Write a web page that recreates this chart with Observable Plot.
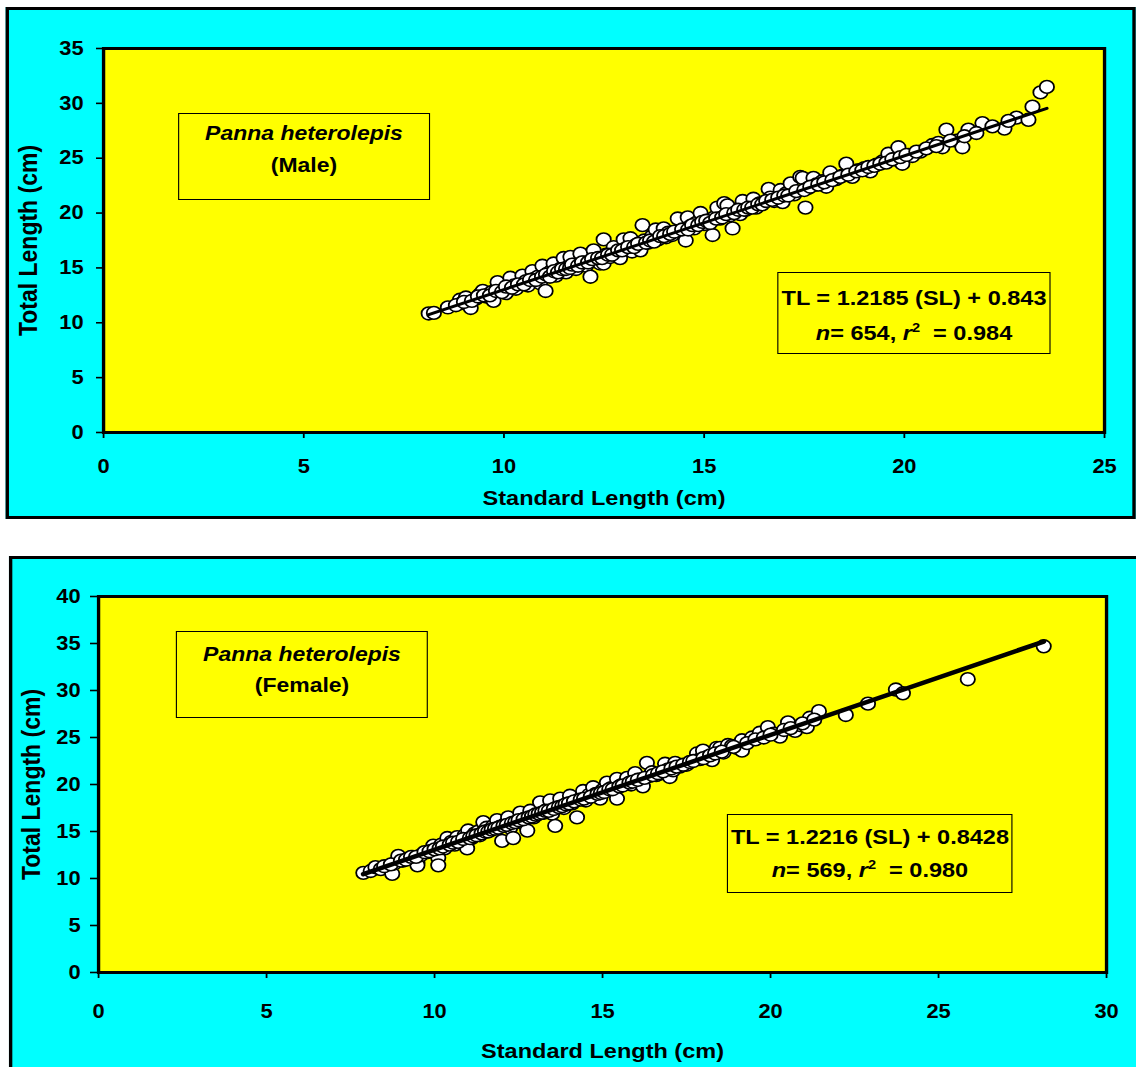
<!DOCTYPE html>
<html>
<head>
<meta charset="utf-8">
<script src="https://cdn.jsdelivr.net/npm/d3@7"></script>
<script src="https://cdn.jsdelivr.net/npm/@observablehq/plot@0.6"></script>
<style>
html, body { margin: 0; padding: 0; background: #fff; overflow: hidden; width: 1136px; height: 1067px; }
#wrap { position: absolute; left: 0; top: 0; height: 1067px; transform-origin: 0 0; font-family: "Liberation Sans", Arial, sans-serif; }
.panel { position: absolute; background: #00FFFF; border: 3px solid #000; box-sizing: border-box; }
.chart { position: absolute; left: 0; }
.box { position: absolute; box-sizing: border-box; border: 1.5px solid #000; text-align: center; font-weight: bold; color: #000; white-space: nowrap; }
.box i { font-style: italic; }
.box sup { font-size: 0.62em; vertical-align: 0.6em; line-height: 0; }
g[aria-label="x-axis"] line, g[aria-label="y-axis"] line,
g[aria-label="x-axis tick"] path, g[aria-label="y-axis tick"] path { stroke-width: 1.6; }
</style>
</head>
<body>
<div id="wrap"></div>
<script>
// ---------------- data ----------------
// Male: Standard Length (cm) and Total Length (cm)
const maleSL = [8.12,8.25,8.90,8.95,9.05,9.17,9.30,9.40,9.47,9.55,9.62,9.70,9.74,9.84,9.90,10.00,10.05,10.10,10.16,10.25,
  10.30,10.40,10.46,10.55,10.60,10.71,10.75,10.85,10.90,10.96,11.04,11.10,11.20,11.24,11.30,11.40,11.49,11.55,11.60,11.66,
  11.75,11.80,11.91,12.00,12.05,12.16,12.24,12.30,12.40,12.49,12.49,12.55,12.65,12.74,12.80,12.90,12.99,13.05,13.16,13.20,
  13.30,13.41,13.46,13.50,13.60,13.70,13.79,13.85,13.99,14.05,14.10,14.20,14.34,14.40,14.54,14.59,14.65,14.75,14.80,14.91,
  15.00,15.10,15.21,15.25,15.33,15.40,15.50,15.58,15.65,15.71,15.80,15.90,15.96,16.05,16.15,16.23,16.30,16.40,16.50,16.61,
  16.65,16.75,16.91,16.96,17.05,17.16,17.25,17.40,17.46,17.53,17.60,17.73,17.80,17.95,18.05,18.15,18.30,18.45,18.55,18.70,
  18.85,19.00,19.15,19.30,19.45,19.60,19.75,19.85,19.95,20.10,20.20,20.40,20.70,20.85,20.95,21.05,21.30,21.45,21.60,21.95,
  22.50,22.80,23.10,23.20,23.40,23.56,
  8.60,8.80,9.00,9.20,9.35,9.50,9.65,9.80,9.95,10.05,10.20,10.35,10.50,10.65,10.80,10.95,11.05,11.15,11.25,11.35,
  11.45,11.55,11.65,11.70,11.85,11.95,12.10,12.20,12.35,12.45,12.60,12.70,12.85,12.95,13.10,13.25,13.35,13.55,13.65,13.75,
  13.90,14.00,14.15,14.25,14.45,14.60,14.70,14.85,14.95,15.05,15.15,15.30,15.45,15.55,15.75,15.85,16.00,16.10,16.20,16.35,
  16.45,16.55,16.70,16.85,17.00,17.10,17.30,17.50,17.65,17.85,18.00,18.20,18.40,18.60,18.80,18.95,19.10,19.25,19.40,19.55,
  19.70,19.90,20.05,20.30,20.55,20.80,21.15,21.50,21.80,22.20,22.60];
const maleTL = [10.85,10.90,12.1,11.8,12.3,11.35,12.2,12.6,12.9,12.4,12.6,12.8,12.0,13.7,12.9,13.0,12.7,13.3,14.1,13.4,
  13.1,13.6,14.3,13.8,13.4,14.7,14.0,14.2,13.6,15.2,12.9,14.5,14.8,15.4,14.3,14.9,15.9,14.6,15.1,16.0,
  15.3,14.9,16.3,15.5,15.2,14.2,16.6,15.7,15.4,17.6,15.4,16.2,16.0,16.9,16.3,15.9,17.6,16.8,17.7,16.5,
  17.1,16.6,18.9,17.5,17.3,17.9,18.5,17.6,18.6,17.8,18.2,18.0,19.5,18.4,17.5,19.6,18.8,18.6,19.1,20.0,
  19.0,19.3,18.0,19.6,20.5,19.5,20.9,20.7,19.8,18.6,20.1,19.9,21.1,20.3,20.6,21.3,20.5,20.9,21.0,22.2,
  21.4,21.1,22.1,21.0,21.8,22.7,21.7,23.3,23.2,20.5,22.3,23.2,22.6,22.9,22.4,23.7,23.1,23.4,24.5,23.3,
  23.9,24.1,23.8,24.4,24.7,25.4,24.9,26.0,24.5,25.3,25.2,25.6,26.2,26.4,26.0,27.6,26.6,26.0,27.6,28.2,
  27.7,28.7,28.5,29.7,31.0,31.5,
  11.4,11.6,11.9,12.0,12.4,12.5,12.5,12.9,12.8,13.3,13.2,13.5,13.5,13.9,13.9,14.2,14.4,14.2,14.7,14.6,
  14.9,14.9,15.0,15.3,15.2,15.5,15.5,15.8,15.9,15.9,16.2,16.2,16.6,16.6,16.9,16.9,17.2,17.3,17.5,17.4,
  17.9,17.9,18.1,18.3,18.5,18.5,18.9,18.9,19.2,19.3,19.1,19.5,19.6,19.9,20.0,20.3,20.3,20.5,20.5,20.8,
  20.8,21.1,21.2,21.4,21.6,21.6,22.0,22.1,22.4,22.6,22.8,23.0,23.3,23.5,23.8,23.9,24.2,24.3,24.5,24.6,
  24.9,25.1,25.3,25.6,25.9,26.1,26.6,27.0,27.3,27.9,28.4];

// Female: Standard Length (cm) and Total Length (cm)
const femaleSL = [7.88,8.10,8.24,8.40,8.62,8.74,8.80,8.92,9.05,9.22,9.35,9.49,9.49,9.60,9.80,9.96,10.05,10.11,10.11,10.20,
  10.30,10.38,10.50,10.60,10.67,10.80,10.90,10.97,11.00,11.10,11.20,11.30,11.35,11.45,11.45,11.55,11.65,11.75,11.86,11.95,
  12.01,12.10,12.19,12.25,12.34,12.45,12.55,12.62,12.70,12.76,12.85,12.95,13.05,13.14,13.25,13.35,13.44,13.50,13.59,13.65,
  13.74,13.85,13.95,14.03,14.10,14.24,14.30,14.42,14.50,14.60,14.72,14.80,14.93,15.00,15.13,15.25,15.35,15.43,15.43,15.55,
  15.65,15.73,15.85,15.97,16.10,16.20,16.32,16.40,16.47,16.60,16.75,16.86,16.95,17.00,17.10,17.16,17.30,17.50,17.81,17.90,
  17.99,18.10,18.26,18.40,18.50,18.60,18.73,18.85,19.00,19.15,19.15,19.45,19.68,19.92,20.10,20.28,20.52,20.73,20.90,21.08,
  21.17,21.44,22.24,22.90,23.73,23.94,25.87,28.13,
  8.50,8.70,9.00,9.15,9.30,9.45,9.70,9.85,10.00,10.15,10.25,10.45,10.55,10.70,10.85,11.05,11.15,11.25,11.40,11.50,
  11.60,11.70,11.80,11.90,12.05,12.15,12.30,12.40,12.50,12.65,12.80,12.90,13.00,13.10,13.20,13.30,13.40,13.55,13.70,13.80,
  13.90,14.00,14.15,14.35,14.45,14.65,14.85,14.95,15.05,15.20,15.30,15.50,15.60,15.80,15.90,16.05,16.25,16.50,16.65,16.80,
  17.05,17.20,17.40,17.60,17.70,18.00,18.20,18.35,18.55,18.90,19.30,19.55,19.80,20.00,20.40,20.60,20.95,21.30];
const femaleTL = [10.6,10.8,11.2,11.0,11.2,10.5,11.6,12.4,11.9,12.1,12.3,11.7,11.4,12.5,12.8,13.5,13.0,12.2,11.4,13.6,
  13.2,14.3,13.9,13.6,14.4,14.0,14.6,13.2,15.1,14.3,14.8,15.0,14.6,16.0,14.9,15.4,15.2,15.6,16.2,15.5,
  14.0,15.8,16.5,15.4,14.3,16.0,17.0,15.9,16.4,15.1,17.2,16.5,16.8,18.1,17.0,17.3,18.3,16.9,15.6,17.6,
  18.5,17.5,17.9,18.8,18.0,16.5,18.4,19.3,18.3,18.9,19.7,19.0,18.5,19.4,20.2,19.6,19.3,20.6,18.5,19.9,
  20.1,20.7,20.0,21.2,20.5,19.8,22.3,20.9,21.3,21.0,21.2,22.2,21.6,20.8,21.5,22.3,21.9,22.1,23.3,22.7,
  23.6,22.9,22.6,23.9,23.9,23.4,24.2,24.1,23.9,24.7,23.6,25.0,25.5,26.1,25.4,25.1,26.6,25.7,26.3,26.1,
  27.1,27.8,27.4,28.6,30.1,29.7,31.2,34.7,
  11.3,11.5,11.9,12.0,12.3,12.3,12.8,12.9,13.1,13.2,13.4,13.6,13.8,13.9,14.2,14.3,14.5,14.6,14.8,15.0,
  15.0,15.2,15.3,15.4,15.6,15.7,15.9,16.0,16.2,16.3,16.5,16.6,16.8,16.9,17.0,17.2,17.2,17.4,17.6,17.7,
  17.9,18.0,18.2,18.4,18.5,18.7,19.0,19.1,19.2,19.5,19.5,19.8,19.9,20.2,20.3,20.5,20.7,21.0,21.2,21.4,
  21.7,21.9,22.1,22.4,22.5,22.8,23.1,23.3,23.5,24.0,24.4,24.8,25.0,25.3,25.8,26.0,26.5,26.9];

// regression fits (from the chart's annotation)
const maleFit = {slope: 1.2185, intercept: 0.843, n: 654, r2: "0.984"};
const femaleFit = {slope: 1.2216, intercept: 0.8428, n: 569, r2: "0.980"};

// axis ticks
const maleXTicks = [0, 5, 10, 15, 20, 25];
const maleYTicks = [0, 5, 10, 15, 20, 25, 30, 35];
const femaleXTicks = [0, 5, 10, 15, 20, 25, 30];
const femaleYTicks = [0, 5, 10, 15, 20, 25, 30, 35, 40];

// ---------------- layout ----------------
const S = 1.12;                 // horizontal stretch of the original picture
const W0 = 1136 / S;
const X = px => px / S;
const FONT = '"Liberation Sans", Arial, sans-serif';

const wrap = document.getElementById("wrap");
wrap.style.width = W0 + "px";
wrap.style.transform = `scaleX(${S})`;

function addDiv(cls, left, top, width, height, html, extra) {
  const d = document.createElement("div");
  d.className = cls;
  d.style.left = X(left) + "px";
  d.style.top = top + "px";
  d.style.width = X(width) + "px";
  d.style.height = height + "px";
  if (html) d.innerHTML = html;
  if (extra) Object.assign(d.style, extra);
  wrap.appendChild(d);
  return d;
}

function rows(sl, tl) { return sl.map((s, i) => ({sl: s, tl: tl[i]})); }
function fitRows(sl, fit) {
  const [a, b] = d3.extent(sl);
  return [a, b].map(s => ({sl: s, tl: fit.slope * s + fit.intercept}));
}

function makeChart(o) {
  const data = rows(o.sl, o.tl);
  const chart = Plot.plot({
    width: W0,
    height: o.height,
    marginLeft: X(o.left),
    marginRight: X(o.right),
    marginTop: o.top,
    marginBottom: o.bottom,
    style: {background: "none", fontFamily: FONT, fontSize: "19.5px", fontWeight: "bold", color: "#000", overflow: "visible"},
    x: {domain: [0, o.xTicks[o.xTicks.length - 1]], ticks: o.xTicks, tickSize: 6, tickPadding: o.xPad, label: null},
    y: {domain: [0, o.yTicks[o.yTicks.length - 1]], ticks: o.yTicks, tickSize: X(o.yTick), tickPadding: X(o.yPad), label: null},
    marks: [
      Plot.frame({fill: "#FFFF00", stroke: "#000", strokeWidth: 3}),
      Plot.dot(data, {x: "sl", y: "tl", r: 6.4, fill: "#fff", stroke: "#000", strokeWidth: 1.6}),
      Plot.line(fitRows(o.sl, o.fit), {x: "sl", y: "tl", stroke: "#000", strokeWidth: o.lineW}),
      Plot.text(["Standard Length (cm)"], {frameAnchor: "bottom", lineAnchor: "middle", textAnchor: "middle", dy: o.xTitle, fontSize: 21, fontWeight: "bold", fill: "#000"}),
      Plot.text(["Total Length (cm)"], {frameAnchor: "left", lineAnchor: "middle", textAnchor: "middle", dx: -X(o.yTitle), rotate: -90, fontSize: 23, fontWeight: "bold", fill: "#000"})
    ]
  });
  const holder = document.createElement("div");
  holder.className = "chart";
  holder.style.top = o.svgTop + "px";
  holder.appendChild(chart);
  wrap.appendChild(holder);
}

// panel backgrounds
addDiv("panel", 6, 7, 1130, 512);
addDiv("panel", 9, 556, 1160, 530);

makeChart({sl: maleSL, tl: maleTL, fit: maleFit, xTicks: maleXTicks, yTicks: maleYTicks,
  svgTop: 0, height: 540, left: 103, right: 32, top: 48, bottom: 108,
  xPad: 21, yTick: 7, yPad: 13, xTitle: 66, yTitle: 75, lineW: 3});

makeChart({sl: femaleSL, tl: femaleTL, fit: femaleFit, xTicks: femaleXTicks, yTicks: femaleYTicks,
  svgTop: 540, height: 527, left: 98, right: 30, top: 56, bottom: 95,
  xPad: 26, yTick: 8, yPad: 10, xTitle: 79, yTitle: 67, lineW: 4.5});

// annotation boxes
const spStyle = (lh, pad) => ({fontSize: "20.5px", lineHeight: lh + "px", paddingTop: pad + "px"});
addDiv("box", 178, 113, 252, 87, "<i>Panna heterolepis</i><br>(Male)", spStyle(32, 2.5));
addDiv("box", 777, 272, 274, 82,
  `TL = ${maleFit.slope.toFixed(4)} (SL) + ${maleFit.intercept}<br><i>n</i>= ${maleFit.n}, <i>r</i><sup>2</sup>&nbsp; = ${maleFit.r2}`,
  {fontSize: "21px", lineHeight: "35px", paddingTop: "7px"});
addDiv("box", 176, 631, 252, 87, "<i>Panna heterolepis</i><br>(Female)", spStyle(31, 6));
addDiv("box", 727, 814, 286, 79,
  `TL = ${femaleFit.slope.toFixed(4)} (SL) + ${femaleFit.intercept}<br><i>n</i>= ${femaleFit.n}, <i>r</i><sup>2</sup>&nbsp; = ${femaleFit.r2}`,
  {fontSize: "21px", lineHeight: "33px", paddingTop: "5px"});
</script>
</body>
</html>
